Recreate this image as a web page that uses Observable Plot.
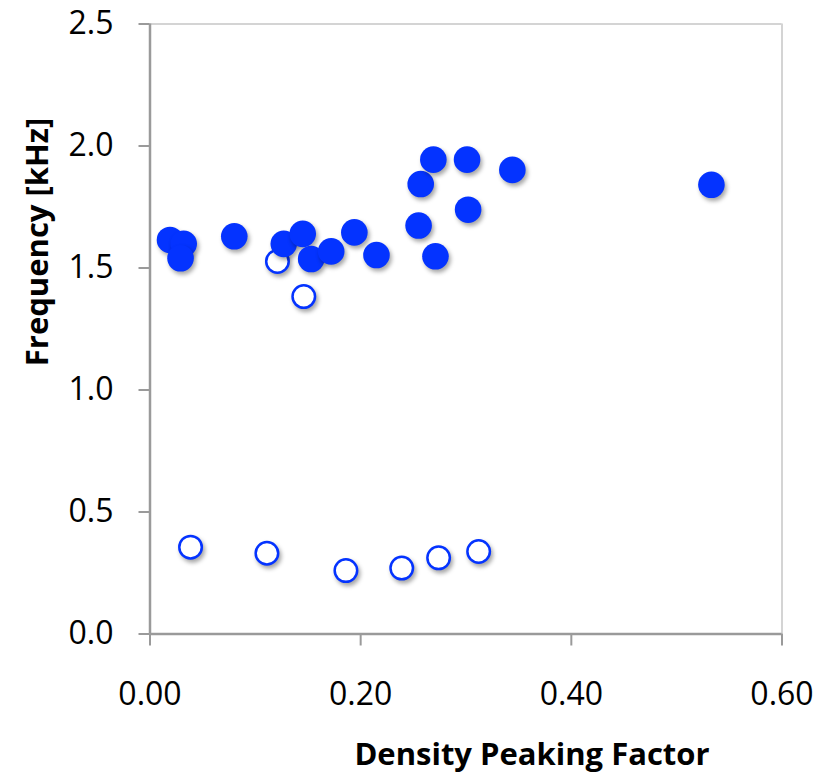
<!DOCTYPE html>
<html>
<head>
<meta charset="utf-8">
<script src="https://cdn.jsdelivr.net/npm/d3@7"></script>
<script src="https://cdn.jsdelivr.net/npm/@observablehq/plot@0.6"></script>
<style>
  html, body { margin: 0; padding: 0; background: #fff; }
  g[aria-label="dot"] circle { filter: drop-shadow(2px 3px 2px rgba(0,0,0,0.35)); }
</style>
</head>
<body>
<div id="chart"></div>
<script>
// Filled markers
const filledX = [0.019, 0.032, 0.029, 0.080, 0.127, 0.145, 0.153, 0.172, 0.194, 0.215, 0.255, 0.257, 0.269, 0.271, 0.301, 0.302, 0.344, 0.533];
const filledY = [1.615, 1.599, 1.540, 1.630, 1.599, 1.640, 1.537, 1.568, 1.646, 1.553, 1.674, 1.844, 1.944, 1.548, 1.944, 1.739, 1.902, 1.841];
// Open markers
const openX = [0.121, 0.146, 0.0385, 0.111, 0.186, 0.239, 0.274, 0.312];
const openY = [1.527, 1.383, 0.356, 0.331, 0.260, 0.270, 0.312, 0.338];

const xTicks = [0, 0.2, 0.4, 0.6];
const yTicks = [0, 0.5, 1.0, 1.5, 2.0, 2.5];
const xTitle = "Density Peaking Factor";
const yTitle = "Frequency [kHz]";

const filled = filledX.map((x, i) => ({x, y: filledY[i]}));
const open = openX.map((x, i) => ({x, y: openY[i]}));

const chart = Plot.plot({
  width: 817,
  height: 774,
  marginLeft: 149.5,
  marginRight: 35.5,
  marginTop: 23.5,
  marginBottom: 140.5,
  style: {fontFamily: "'Open Sans', sans-serif", fontSize: "32px", color: "#000", background: "#fff"},
  x: {domain: [0, 0.6]},
  y: {domain: [0, 2.5]},
  marks: [
    Plot.ruleY([2.5], {stroke: "#d4d4d4", strokeWidth: 2}),
    Plot.ruleX([0.6], {stroke: "#d4d4d4", strokeWidth: 2}),
    Plot.axisX({ticks: xTicks, tickFormat: d3.format(".2f"), tickSize: 12, tickPadding: 36, stroke: "#9a9a9a", strokeWidth: 2, fill: "#000", fontSize: 32, label: null}),
    Plot.axisY({ticks: yTicks, tickFormat: d3.format(".1f"), tickSize: 11, tickPadding: 25.5, stroke: "#9a9a9a", strokeWidth: 2, fill: "#000", fontSize: 32, label: null}),
    Plot.ruleX([0], {stroke: "#9a9a9a", strokeWidth: 2.5}),
    Plot.ruleY([0], {stroke: "#9a9a9a", strokeWidth: 2.5}),
    Plot.dot(open, {x: "x", y: "y", r: 11.25, fill: "#fff", stroke: "#0433ff", strokeWidth: 2.5}),
    Plot.dot(filled, {x: "x", y: "y", r: 13.3, fill: "#0433ff", stroke: "none"}),
    Plot.text([xTitle], {frameAnchor: "bottom", text: d => d, dx: 66, dy: 121.5, textAnchor: "middle", lineAnchor: "middle", fontSize: 31, fontWeight: "bold", fill: "#000"}),
    Plot.text([yTitle], {frameAnchor: "left", text: d => d, rotate: -90, dx: -112, dy: -87, textAnchor: "middle", lineAnchor: "middle", fontSize: 31, fontWeight: "bold", fill: "#000"})
  ]
});
document.getElementById("chart").appendChild(chart);
</script>
</body>
</html>
